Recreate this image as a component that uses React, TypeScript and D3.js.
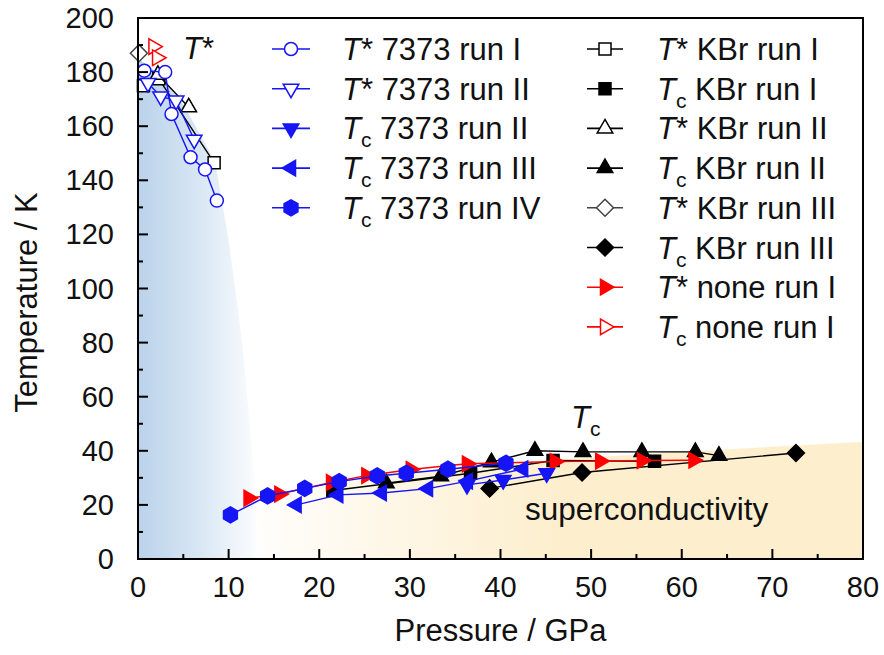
import * as d3 from 'd3'

const W = 884
const H = 655
const margin = { left: 138, right: 21, top: 18, bottom: 96 }
const FONT = '"Liberation Sans", Arial, sans-serif'

const xTicks = [0, 10, 20, 30, 40, 50, 60, 70, 80]
const xMinorTicks = [5, 15, 25, 35, 45, 55, 65, 75]
const yTicks = [0, 20, 40, 60, 80, 100, 120, 140, 160, 180, 200]
const yMinorTicks = [10, 30, 50, 70, 90, 110, 130, 150, 170, 190]

// [pressure GPa, temperature K]
const tStar7373RunI = [[0.7, 180.5], [3.0, 180], [3.7, 164.5], [5.8, 148.5], [7.4, 144], [8.7, 132.5]]
const tStar7373RunII = [[1.1, 176], [2.5, 171], [4.2, 169.5], [6.2, 155]]
const tc7373RunII = [[36.3, 27.4], [40.3, 29.2], [45.1, 31.7]]
const tc7373RunIII = [[17.5, 20], [22.1, 23.7], [26.9, 24.4], [32, 26], [36.4, 28.8], [42.5, 33.3]]
const tc7373RunIV = [[10.2, 16.3], [14.3, 23.3], [18.4, 26.1], [22.2, 28.6], [26.4, 30.7], [29.6, 31.7], [34.2, 33.2], [40.6, 35.4]]
const tStarKBrRunI = [[0.6, 175], [2.3, 177.5], [8.4, 146.5]]
const tcKBrRunI = [[21.5, 25.3], [36.7, 31.7], [45.8, 36.4], [57, 36.1]]
const tStarKBrRunII = [[2.2, 179], [5.6, 167]]
const tcKBrRunII = [[27.4, 28], [33.4, 30.6], [39, 35.8], [43.8, 40], [49.1, 39.6], [55.6, 39.6], [61.5, 39.6], [64.1, 38.2]]
const tStarKBrRunIII = [[0.1, 187]]
const tcKBrRunIII = [[38.8, 26.1], [49, 32], [72.6, 39.2]]
const tStarNone = [[1.7, 189.4], [2.1, 185.3]]
const tcNone = [[12.2, 22.5], [15.6, 24], [21.3, 28.3], [25.2, 30.8], [30.1, 33.1], [36.3, 35.2], [46, 36], [51, 36.2], [55.6, 36.4], [61.3, 36.5]]

// shaded phase regions (outline in P, T)
const pseudogapEdge = [[0, 0], [0, 185], [2, 180], [5, 168], [8.5, 147], [10, 118], [11.5, 80], [12.6, 40], [13.5, 0]]
const scEdge = [[10, 0], [10, 14], [15, 22], [20, 27], [30, 32], [40, 35.3], [50, 37.6], [60, 39.6], [70, 41.5], [80, 43.3], [80, 0]]

const BLUE = '#1515f5'
const RED = '#ff0000'
const BLACK = '#000000'

type Shape = 'circle' | 'square' | 'diamond' | 'up' | 'down' | 'left' | 'right' | 'hexagon'

const plotSeries = [
  { data: tcKBrRunIII, shape: 'diamond', color: BLACK, filled: true },
  { data: tcKBrRunI, shape: 'square', color: BLACK, filled: true },
  { data: tcKBrRunII, shape: 'up', color: BLACK, filled: true },
  { data: tStarKBrRunIII, shape: 'diamond', color: '#444', filled: false },
  { data: tStarKBrRunI, shape: 'square', color: BLACK, filled: false },
  { data: tStarKBrRunII, shape: 'up', color: BLACK, filled: false },
  { data: tcNone, shape: 'right', color: RED, filled: true },
  { data: tStarNone, shape: 'right', color: RED, filled: false },
  { data: tc7373RunII, shape: 'down', color: BLUE, filled: true },
  { data: tc7373RunIII, shape: 'left', color: BLUE, filled: true },
  { data: tc7373RunIV, shape: 'hexagon', color: BLUE, filled: true },
  { data: tStar7373RunII, shape: 'down', color: BLUE, filled: false },
  { data: tStar7373RunI, shape: 'circle', color: BLUE, filled: false },
]

const legendLeft = [
  { sym: 'star', rest: ' 7373 run I', shape: 'circle', color: BLUE, filled: false },
  { sym: 'star', rest: ' 7373 run II', shape: 'down', color: BLUE, filled: false },
  { sym: 'c', rest: ' 7373 run II', shape: 'down', color: BLUE, filled: true },
  { sym: 'c', rest: ' 7373 run III', shape: 'left', color: BLUE, filled: true },
  { sym: 'c', rest: ' 7373 run IV', shape: 'hexagon', color: BLUE, filled: true },
]

const legendRight = [
  { sym: 'star', rest: ' KBr run I', shape: 'square', color: BLACK, filled: false },
  { sym: 'c', rest: ' KBr run I', shape: 'square', color: BLACK, filled: true },
  { sym: 'star', rest: ' KBr run II', shape: 'up', color: BLACK, filled: false },
  { sym: 'c', rest: ' KBr run II', shape: 'up', color: BLACK, filled: true },
  { sym: 'star', rest: ' KBr run III', shape: 'diamond', color: '#444', filled: false },
  { sym: 'c', rest: ' KBr run III', shape: 'diamond', color: BLACK, filled: true },
  { sym: 'star', rest: ' none run I', shape: 'right', color: RED, filled: true },
  { sym: 'c', rest: ' none run I', shape: 'right', color: RED, filled: false },
]

const closed = d3.line().curve(d3.curveLinearClosed)

function polygon(n: number, r: number, startDeg: number) {
  const pts: [number, number][] = []
  for (let i = 0; i < n; i++) {
    const a = ((startDeg + (360 / n) * i) * Math.PI) / 180
    pts.push([r * Math.cos(a), r * Math.sin(a)])
  }
  return closed(pts) as string
}

function markerPath(shape: Shape) {
  switch (shape) {
    case 'circle': return d3.symbol(d3.symbolCircle, Math.PI * 6.5 * 6.5)() as string
    case 'square': return d3.symbol(d3.symbolSquare, 12 * 12)() as string
    case 'diamond': return polygon(4, 8.5, 0)
    case 'up': return polygon(3, 9, -90)
    case 'down': return polygon(3, 9, 90)
    case 'left': return polygon(3, 9, 180)
    case 'right': return polygon(3, 9, 0)
    case 'hexagon': return polygon(6, 8, -90)
  }
}

function Marker({ x, y, shape, color, filled }: any) {
  return (
    <path
      d={markerPath(shape)}
      transform={`translate(${x},${y})`}
      fill={filled ? color : '#fff'}
      stroke={color}
      strokeWidth={1.5}
    />
  )
}

function Label({ x, y, sym, rest }: any) {
  return (
    <text x={x} y={y} fontSize={31} fontFamily={FONT} style={{ whiteSpace: 'pre' }} fill="#111">
      <tspan fontStyle="italic">T</tspan>
      {sym === 'star' ? <tspan>*</tspan> : <tspan dy={8} fontSize={21}>c</tspan>}
      <tspan dy={sym === 'star' ? 0 : -8}>{rest}</tspan>
    </text>
  )
}

export default function App() {
  const x = d3.scaleLinear().domain([0, 80]).range([margin.left, W - margin.right])
  const y = d3.scaleLinear().domain([0, 200]).range([H - margin.bottom, margin.top])
  const line = d3.line<number[]>().x(d => x(d[0])).y(d => y(d[1]))
  const area = d3.line<number[]>().x(d => x(d[0])).y(d => y(d[1])).curve(d3.curveLinearClosed)

  const [x0, x1] = x.range()
  const [yb, yt] = y.range()
  const rowY = (i: number) => 49 + 39.7 * i

  return (
    <svg width={W} height={H} style={{ position: 'absolute', left: 0, top: 0 }}>
      <defs>
        <linearGradient id="blueFade" gradientUnits="userSpaceOnUse" x1={x(0)} x2={x(13.7)} y1={0} y2={0}>
          <stop offset="0" stopColor="#bad2ea" />
          <stop offset="0.5" stopColor="#d9e7f4" />
          <stop offset="1" stopColor="#ffffff" />
        </linearGradient>
        <linearGradient id="beigeFade" gradientUnits="userSpaceOnUse" x1={x(10.5)} x2={x(46)} y1={0} y2={0}>
          <stop offset="0" stopColor="#ffffff" />
          <stop offset="1" stopColor="#fdefce" />
        </linearGradient>
        <clipPath id="plotClip">
          <rect x={x0} y={yt} width={x1 - x0} height={yb - yt} />
        </clipPath>
      </defs>

      <g clipPath="url(#plotClip)">
        <path d={area(scEdge) as string} fill="url(#beigeFade)" />
        <path d={area(pseudogapEdge) as string} fill="url(#blueFade)" />
      </g>

      {plotSeries.map((s, i) => (
        <g key={i}>
          {s.data.length > 1 && (
            <path d={line(s.data) as string} fill="none" stroke={s.color} strokeWidth={1.4} />
          )}
          {s.data.map((d, j) => (
            <Marker key={j} x={x(d[0])} y={y(d[1])} shape={s.shape} color={s.color} filled={s.filled} />
          ))}
        </g>
      ))}

      {/* frame and ticks */}
      <rect x={x0} y={yt} width={x1 - x0} height={yb - yt} fill="none" stroke="#000" strokeWidth={2} />
      {xTicks.map(t => (
        <line key={'xt' + t} x1={x(t)} x2={x(t)} y1={yb} y2={yb - 10} stroke="#000" strokeWidth={2} />
      ))}
      {xMinorTicks.map(t => (
        <line key={'xm' + t} x1={x(t)} x2={x(t)} y1={yb} y2={yb - 5} stroke="#000" strokeWidth={2} />
      ))}
      {yTicks.map(t => (
        <line key={'yt' + t} x1={x0} x2={x0 + 10} y1={y(t)} y2={y(t)} stroke="#000" strokeWidth={2} />
      ))}
      {yMinorTicks.map(t => (
        <line key={'ym' + t} x1={x0} x2={x0 + 5} y1={y(t)} y2={y(t)} stroke="#000" strokeWidth={2} />
      ))}

      {xTicks.map(t => (
        <text key={'xl' + t} x={x(t)} y={yb + 38} textAnchor="middle" fontSize={29} fontFamily={FONT} fill="#111">
          {t}
        </text>
      ))}
      {yTicks.map(t => (
        <text key={'yl' + t} x={x0 - 24} y={y(t) + 10} textAnchor="end" fontSize={29} fontFamily={FONT} fill="#111">
          {t}
        </text>
      ))}

      <text x={(x0 + x1) / 2} y={641} textAnchor="middle" fontSize={31} fontFamily={FONT} fill="#111">
        Pressure / GPa
      </text>
      <text transform={`translate(37,${(yt + yb) / 2 + 14}) rotate(-90)`} textAnchor="middle" fontSize={31} fontFamily={FONT} fill="#111">
        Temperature / K
      </text>

      {/* region labels */}
      <text x={183} y={59} fontSize={31} fontFamily={FONT} fill="#111">
        <tspan fontStyle="italic">T</tspan>
        <tspan>*</tspan>
      </text>
      <text x={571} y={428} fontSize={31} fontFamily={FONT} fill="#111">
        <tspan fontStyle="italic">T</tspan>
        <tspan dy={8} fontSize={21}>c</tspan>
      </text>
      <text x={525} y={520} fontSize={31.5} fontFamily={FONT} fill="#111">
        superconductivity
      </text>

      {/* legends */}
      {legendLeft.map((e, i) => (
        <g key={'ll' + i}>
          <line x1={272} x2={310} y1={rowY(i)} y2={rowY(i)} stroke={e.color} strokeWidth={1.6} />
          <Marker x={291} y={rowY(i)} shape={e.shape} color={e.color} filled={e.filled} />
          <Label x={342} y={rowY(i) + 11} sym={e.sym} rest={e.rest} />
        </g>
      ))}
      {legendRight.map((e, i) => (
        <g key={'lr' + i}>
          <line x1={587} x2={623} y1={rowY(i)} y2={rowY(i)} stroke={e.color} strokeWidth={1.6} />
          <Marker x={605} y={rowY(i)} shape={e.shape} color={e.color} filled={e.filled} />
          <Label x={657} y={rowY(i) + 11} sym={e.sym} rest={e.rest} />
        </g>
      ))}
    </svg>
  )
}
